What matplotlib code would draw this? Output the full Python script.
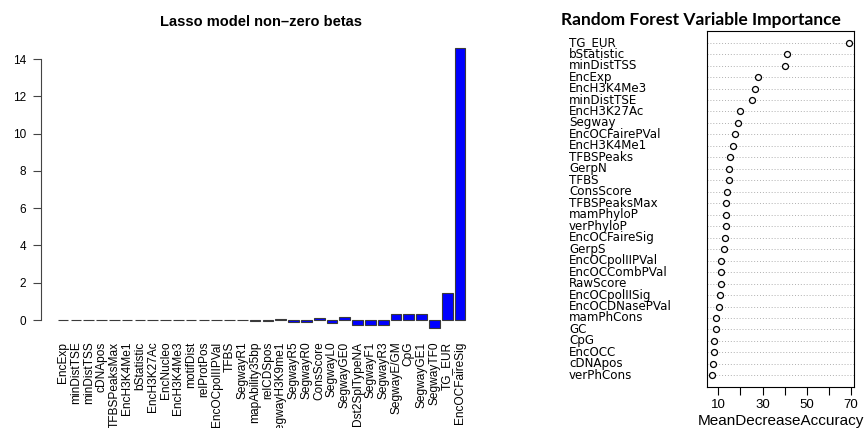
import matplotlib
matplotlib.use("Agg")
import matplotlib.pyplot as plt
import matplotlib.transforms as mtrans
import numpy as np

plt.rcParams['font.family'] = ['Liberation Sans', 'DejaVu Sans']

## donnees : lasso (gauche)
lasso_noms = ["EncExp", "minDistTSE", "minDistTSS", "cDNApos", "TFBSPeaksMax",
              "EncH3K4Me1", "bStatistic", "EncH3K27Ac", "EncNucleo", "EncH3K4Me3",
              "motifDist", "relProtPos", "EncOCpolIIPVal", "TFBS", "SegwayR1",
              "mapAbility35bp", "relCDSpos", "SegwayH3K9me1", "SegwayR5", "SegwayR0",
              "ConsScore", "SegwayL0", "SegwayGE0", "Dst2SplTypeNA", "SegwayF1",
              "SegwayR3", "SegwayE/GM", "CpG", "SegwayGE1", "SegwayTF0", "TG_EUR",
              "EncOCFaireSig"]
lasso_betas = [0.001, 0.001, 0.002, 0.002, 0.003, 0.003, 0.004, 0.004, 0.005, 0.006,
               0.007, 0.008, 0.01, 0.015, -0.02, -0.03, -0.04, 0.06, -0.08, -0.08,
               0.12, -0.17, 0.18, -0.26, -0.26, -0.26, 0.3, 0.31, 0.32, -0.45, 1.45,
               14.6]
lasso_yticks = [0, 2, 4, 6, 8, 10, 12, 14]

## donnees : random forest (droite), de haut en bas
rf_noms = ["TG_EUR", "bStatistic", "minDistTSS", "EncExp", "EncH3K4Me3", "minDistTSE",
           "EncH3K27Ac", "Segway", "EncOCFairePVal", "EncH3K4Me1", "TFBSPeaks", "GerpN",
           "TFBS", "ConsScore", "TFBSPeaksMax", "mamPhyloP", "verPhyloP", "EncOCFaireSig",
           "GerpS", "EncOCpolIIPVal", "EncOCCombPVal", "RawScore", "EncOCpolIISig",
           "EncOCDNasePVal", "mamPhCons", "GC", "CpG", "EncOCC", "cDNApos", "verPhCons"]
rf_mda = [69.0, 41.2, 40.4, 27.8, 26.7, 25.2, 19.9, 18.7, 17.6, 16.4, 15.4, 14.8,
          14.6, 14.0, 13.5, 13.3, 13.3, 12.8, 12.7, 11.3, 11.3, 11.2, 10.6, 10.3,
          8.7, 8.7, 8.2, 8.2, 7.5, 7.3]
rf_xticks = [10, 20, 30, 40, 50, 60, 70]
rf_xlabels = ["10", "", "30", "", "50", "", "70"]

W, H = 865, 428
fig = plt.figure(figsize=(W / 100, H / 100), dpi=100)

## barplot lasso (facon R : largeur 1, espace 0.2)
ax1 = fig.add_axes([41.4 / W, 1 - 339.6 / H, 440.3 / W, 302.9 / H])
n = len(lasso_noms)
xc = 0.7 + 1.2 * np.arange(n)
ax1.bar(xc, lasso_betas, width=1.0, color="#0000ff", edgecolor="#3a3a3a", linewidth=0.8)
ax1.set_xlim(-1.33, 39.93)
ax1.set_ylim(-1.05, 15.2)
for s in ["top", "right", "bottom"]:
    ax1.spines[s].set_visible(False)
ax1.spines["left"].set_bounds(0, 14)
ax1.spines["left"].set_color("#444444")
ax1.spines["left"].set_linewidth(0.8)
ax1.set_yticks(lasso_yticks)
ax1.tick_params(axis="y", length=5.8, width=0.8, color="#444444", pad=5, labelsize=8.5)
ax1.set_xticks(xc)
ax1.set_xticklabels(lasso_noms, rotation=90, fontsize=8.6, va="top", ha="center")
ax1.tick_params(axis="x", length=0, pad=1.5)
fig.text(261 / W, 1 - 22 / H, "Lasso model non\u2013zero betas", ha="center", va="center",
         fontsize=10.5, fontweight="bold")

## dotchart random forest
ax2 = fig.add_axes([707 / W, 1 - 386.8 / H, 147 / W, 355.6 / H])
m = len(rf_noms)
ypos = np.arange(m, 0, -1)
for y in ypos:
    ax2.axhline(y, color="#b0b0b0", linestyle=(0, (1, 2)), linewidth=0.7, zorder=1)
ax2.plot(rf_mda, ypos, "o", mfc="white", mec="black", ms=4.3, mew=0.9, zorder=2)
ax2.set_ylim(0, m + 1)
etendue = max(rf_mda) - min(rf_mda)
ax2.set_xlim(min(rf_mda) - 0.04 * etendue, max(rf_mda) + 0.04 * etendue)
ax2.set_yticks([])
ax2.set_xticks(rf_xticks)
ax2.set_xticklabels(rf_xlabels)
ax2.tick_params(axis="x", length=5.5, width=0.8, pad=3.5, labelsize=9.5)
for s in ax2.spines.values():
    s.set_linewidth(0.8)
trans = mtrans.blended_transform_factory(mtrans.IdentityTransform(), ax2.transData)
for nom, y in zip(rf_noms, ypos):
    ax2.text(569, y, nom, transform=trans, ha="left", va="center", fontsize=8.6,
             family=["DejaVu Sans"])
fig.text(780.5 / W, 1 - 421 / H, "MeanDecreaseAccuracy", ha="center", va="center", fontsize=11)
fig.text(701 / W, 1 - 20 / H, "Random Forest Variable Importance", ha="center", va="center",
         fontsize=12.5, fontweight="bold", family=["Lato", "DejaVu Sans"])

fig.savefig("out.png", dpi=100)
